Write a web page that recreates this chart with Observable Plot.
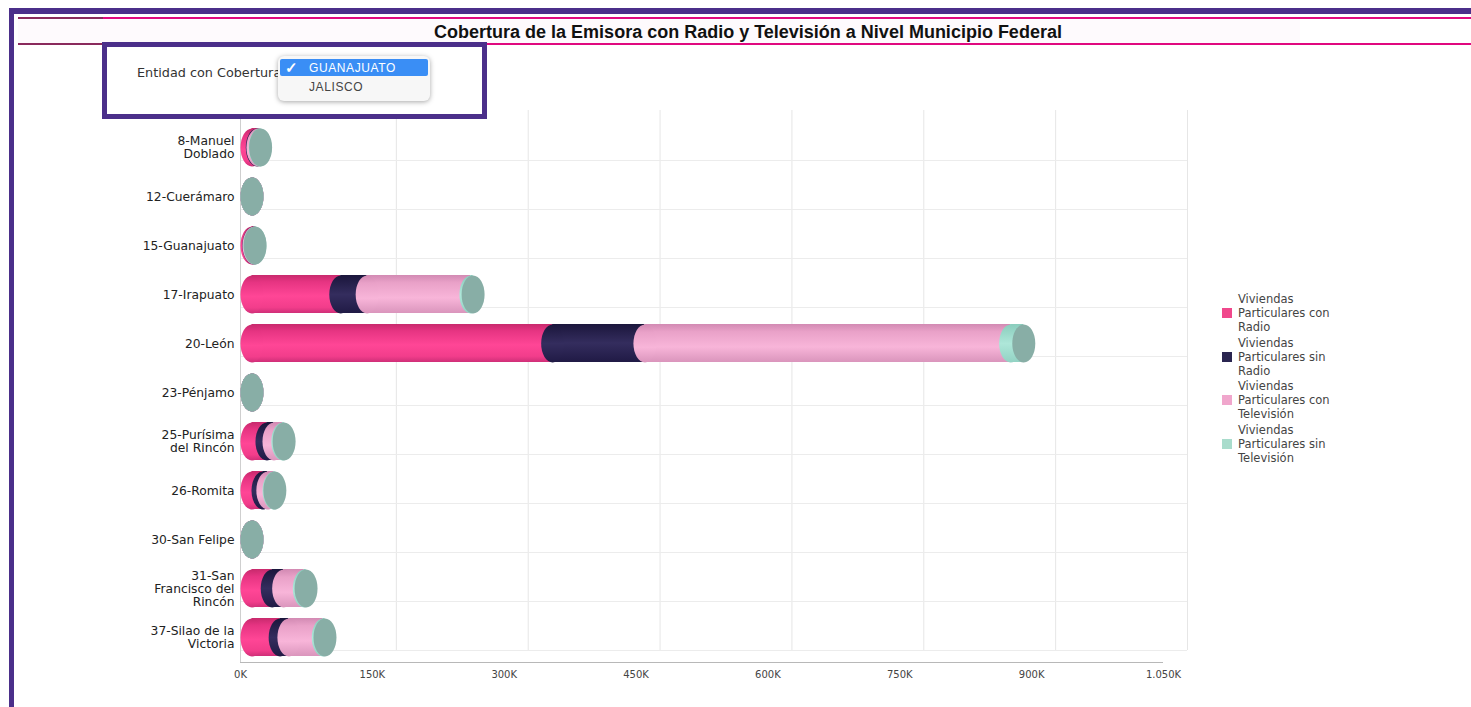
<!DOCTYPE html>
<html>
<head>
<meta charset="utf-8">
<script src="https://cdn.jsdelivr.net/npm/d3@7"></script>
<script src="https://cdn.jsdelivr.net/npm/@observablehq/plot@0.6"></script>
<style>
  html, body { margin: 0; padding: 0; background: #fff; }
  #page { position: relative; width: 1471px; height: 707px; overflow: hidden; font-family: "Liberation Sans", Arial, sans-serif; }
  .abs { position: absolute; }
  #title { left: 18px; width: 1460px; top: 22px; text-align: center; font-weight: bold; font-size: 18px; color: #111; }
  #chart { position: absolute; left: 0; top: 100px; }
  #legend { position: absolute; left: 1222px; top: 292px; font-family: "DejaVu Sans", sans-serif; font-size: 11.5px; line-height: 14px; color: #444; }
  .item { display: flex; align-items: center; margin-bottom: 1.5px; }
  .sw { width: 10px; height: 10px; margin-right: 6px; flex: none; }
  #popup { left: 278px; top: 56px; width: 152px; height: 45px; background: #f7f7f7; border-radius: 6px; box-shadow: 0 1px 5px rgba(0,0,0,0.35); font-size: 12px; }
  #hl { position: absolute; left: 2px; top: 3px; width: 148px; height: 17px; background: #3a8ef5; border-radius: 2px; color: #fff; }
</style>
</head>
<body>
<div id="page">
  <!-- frame decorations -->
  <div class="abs" style="left:9px;top:8px;width:1462px;height:6px;background:#4b2f8a"></div>
  <div class="abs" style="left:9px;top:8px;width:5px;height:699px;background:#4b2f8a"></div>
  <div class="abs" style="left:18px;top:19px;width:1282px;height:25px;background:#fefafd"></div>
  <div class="abs" style="left:18px;top:17px;width:1453px;height:2px;background:#e0087f"></div>
  <div class="abs" style="left:18px;top:17px;width:85px;height:2px;background:#8a2a5c"></div>
  <div class="abs" style="left:18px;top:43px;width:1453px;height:2px;background:#e0087f"></div>
  <div class="abs" style="left:18px;top:43px;width:85px;height:2px;background:#8a2a5c"></div>
  <div id="title" class="abs">Cobertura de la Emisora con Radio y Televisión a Nivel Municipio Federal</div>

  <div id="chart"></div>
  <div id="legend"></div>

  <!-- selector box -->
  <div class="abs" style="left:102px;top:42px;width:375px;height:67px;border:5px solid #4b2f8a;background:#fff"></div>
  <div class="abs" style="left:137px;top:65px;font-family:'DejaVu Sans',sans-serif;font-size:12.8px;color:#333">Entidad con Cobertura</div>
  <div id="popup" class="abs">
    <div id="hl"><span style="position:absolute;left:5px;top:0px;font-size:15px;font-weight:bold;line-height:17px">✓</span><span style="position:absolute;left:29px;top:2px;letter-spacing:0.6px">GUANAJUATO</span></div>
    <div style="position:absolute;left:31px;top:24px;color:#444;letter-spacing:0.6px">JALISCO</div>
  </div>
</div>
<script>
const municipios = ["8-Manuel Doblado","12-Cuerámaro","15-Guanajuato","17-Irapuato","20-León","23-Pénjamo","25-Purísima del Rincón","26-Romita","30-San Felipe","31-San Francisco del Rincón","37-Silao de la Victoria"];
const etiquetasY = ["8-Manuel\nDoblado","12-Cuerámaro","15-Guanajuato","17-Irapuato","20-León","23-Pénjamo","25-Purísima\ndel Rincón","26-Romita","30-San Felipe","31-San\nFrancisco del\nRincón","37-Silao de la\nVictoria"];
const series = ["Viviendas Particulares con Radio","Viviendas Particulares sin Radio","Viviendas Particulares con Televisión","Viviendas Particulares sin Televisión"];
const leyenda = ["Viviendas\nParticulares con\nRadio","Viviendas\nParticulares sin\nRadio","Viviendas\nParticulares con\nTelevisión","Viviendas\nParticulares sin\nTelevisión"];
const conRadio   = [6000, 0, 2000, 101000, 342000, 0, 17000, 12500, 0, 23000, 32000];
const sinRadio   = [800, 0, 300, 30000, 105000, 0, 8000, 5500, 0, 13000, 10000];
const conTV      = [2500, 0, 1000, 118000, 416000, 0, 10000, 7000, 0, 23500, 39000];
const sinTV      = [500, 0, 200, 2500, 15000, 0, 1500, 1000, 0, 2000, 2000];
const xTicks = [0,150000,300000,450000,600000,750000,900000,1050000];
const xTickLabels = ["0K","150K","300K","450K","600K","750K","900K","1.050K"];
const swatchColors = ["#f0488c","#2a2550","#f0a6cc","#a9dccc"];

const valores = [conRadio, sinRadio, conTV, sinTV];
const rows = municipios.flatMap((m, i) => series.map((s, j) => ({municipio: m, serie: s, valor: valores[j][i]})));

const RX = 11.5, RY = 19;
const ellipse = {
  draw(ctx) {
    const k = 0.5523;
    ctx.moveTo(RX, 0);
    ctx.bezierCurveTo(RX, RY*k, RX*k, RY, 0, RY);
    ctx.bezierCurveTo(-RX*k, RY, -RX, RY*k, -RX, 0);
    ctx.bezierCurveTo(-RX, -RY*k, -RX*k, -RY, 0, -RY);
    ctx.bezierCurveTo(RX*k, -RY, RX, -RY*k, RX, 0);
    ctx.closePath();
  }
};

const chart = Plot.plot({
  width: 1230,
  height: 600,
  marginLeft: 240,
  marginRight: 67,
  marginTop: 22,
  marginBottom: 38,
  style: {fontFamily: "DejaVu Sans, sans-serif", background: "transparent", overflow: "visible"},
  x: {domain: [0, 1050000], label: null},
  y: {domain: municipios, paddingInner: 0.22, paddingOuter: 0.12, label: null},
  color: {domain: series, range: ["url(#gRadio)","url(#gSinRadio)","url(#gTV)","url(#gSinTV)"]},
  marks: [
    Plot.ruleX(xTicks.slice(1), {dx: 24, dy: -12, stroke: "#e6e6e6", strokeWidth: 1}),
    Plot.ruleY(municipios, {y: d => d, dy: 13, x1: 0, x2: 1050000, insetRight: -24, stroke: "#ececec"}),
    Plot.ruleX([0], {insetTop: -12, stroke: "#cfcfcf"}),
    Plot.ruleY([municipios[municipios.length - 1]], {dy: 25, x1: 0, x2: 1050000, stroke: "#b8b8b8"}),
    Plot.barX(rows, Plot.stackX({x: "valor", y: "municipio", fill: "serie", insetLeft: RX, insetRight: -RX})),
    Plot.dot(rows, Plot.stackX1({x: "valor", y: "municipio", fill: "serie", dx: RX, symbol: ellipse, r: 5, stroke: null})),
    Plot.dot(rows, Plot.groupY({x: "sum"}, {x: "valor", y: "municipio", dx: RX, symbol: ellipse, r: 5, fill: "#88aea6"})),
    Plot.axisX({ticks: xTicks, tickFormat: d => xTickLabels[xTicks.indexOf(d)], tickSize: 0, tickPadding: 8, fontSize: 10, fill: "#444", label: null}),
    Plot.axisY({tickFormat: d => etiquetasY[municipios.indexOf(d)], tickSize: 0, tickPadding: 6, fontSize: 12.3, lineHeight: 1.05, fill: "#222", label: null})
  ]
});

// cylinder gradients
const svg = d3.select(chart.tagName.toLowerCase() === "svg" ? chart : chart.querySelector("svg"));
const defs = svg.insert("defs", ":first-child");
const grads = {
  gRadio: [[0,"#c82a6d"],[0.18,"#e63482"],[0.55,"#ff4696"],[0.85,"#f23d8b"],[1,"#cf2f78"]],
  gSinRadio: [[0,"#1b163c"],[0.5,"#342d5e"],[1,"#201a45"]],
  gTV: [[0,"#d28ab3"],[0.2,"#e9a1c8"],[0.6,"#f8b5d9"],[1,"#da95bc"]],
  gSinTV: [[0,"#8acdbd"],[0.5,"#aee7d9"],[1,"#92d2c3"]]
};
for (const [id, stops] of Object.entries(grads)) {
  const g = defs.append("linearGradient").attr("id", id).attr("x1", 0).attr("y1", 0).attr("x2", 0).attr("y2", 1);
  for (const [o, c] of stops) g.append("stop").attr("offset", o).attr("stop-color", c);
}
document.getElementById("chart").appendChild(chart);

// legend
const lg = document.getElementById("legend");
series.forEach((s, j) => {
  const it = document.createElement("div");
  it.className = "item";
  const sw = document.createElement("div");
  sw.className = "sw";
  sw.style.background = swatchColors[j];
  const tx = document.createElement("div");
  tx.innerHTML = leyenda[j].split("\n").join("<br>");
  it.appendChild(sw); it.appendChild(tx);
  lg.appendChild(it);
});
</script>
</body>
</html>
